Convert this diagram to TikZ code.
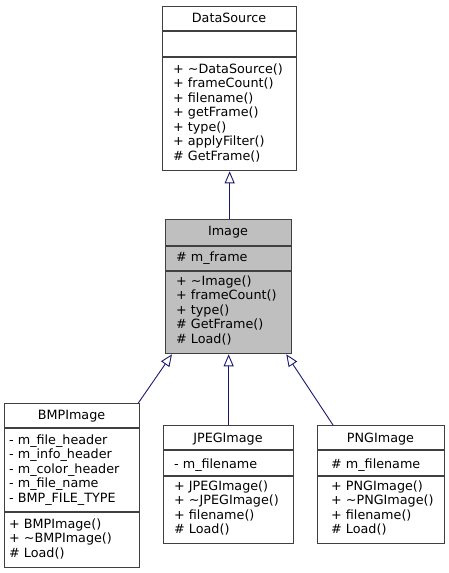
\documentclass[tikz,border=0pt]{standalone}
\usepackage{fontspec}
\setmainfont{DejaVu Sans}
\usetikzlibrary{arrows.meta,calc}
\definecolor{boxline}{HTML}{404040}
\definecolor{edgeblue}{HTML}{191970}
\definecolor{curfill}{HTML}{BFBFBF}
\begin{document}
\begin{tikzpicture}[x=1pt,y=-1pt,
  classbox/.style={draw=boxline, line width=1.3pt, fill=white, inner sep=0pt, anchor=north west},
  curbox/.style={classbox, fill=curfill},
  sepline/.style={draw=boxline, line width=1.3pt},
  txt/.style={inner sep=0pt, font=\fontsize{12.75}{14.5}\selectfont},
  title/.style={txt, anchor=base},
  members/.style={txt, anchor=north west, align=left},
  inherit/.style={draw=edgeblue, line width=0.9pt,
    -{Triangle[length=12pt,width=10pt,fill=white]}}]
\useasboundingbox (0,0) rectangle (449,573);

% DataSource
\node[classbox, minimum width=134pt, minimum height=164pt] (ds) at (162,6) {};
\draw[sepline] (162,31) -- (296,31);
\draw[sepline] (162,57) -- (296,57);
\node[title] (dst) at (229,22) {DataSource};
\node[members] (dsm) at (173,62.85) {\strut+ \textasciitilde DataSource()\\\strut+ frameCount()\\\strut+ filename()\\\strut+ getFrame()\\\strut+ type()\\\strut+ applyFilter()\\\strut\# GetFrame()};

% Image
\node[curbox, minimum width=126pt, minimum height=134pt] (img) at (165,219) {};
\draw[sepline] (165,246) -- (291,246);
\draw[sepline] (165,271) -- (291,271);
\node[title] (imgt) at (228,235) {Image};
\node[members] (imga) at (176,250.85) {\strut\# m\_frame};
\node[members] (imgm) at (176,274.85) {\strut+ \textasciitilde Image()\\\strut+ frameCount()\\\strut+ type()\\\strut\# GetFrame()\\\strut\# Load()};

% BMPImage
\node[classbox, minimum width=135pt, minimum height=164pt] (bmp) at (4,403) {};
\draw[sepline] (4,428) -- (139,428);
\draw[sepline] (4,512) -- (139,512);
\node[title] (bmpt) at (71.5,419) {BMPImage};
\node[members] (bmpa) at (9,433.85) {\strut- m\_file\_header\\\strut- m\_info\_header\\\strut- m\_color\_header\\\strut- m\_file\_name\\\strut- BMP\_FILE\_TYPE};
\node[members] (bmpm) at (9,517.85) {\strut+ BMPImage()\\\strut+ \textasciitilde BMPImage()\\\strut\# Load()};

% JPEGImage
\node[classbox, minimum width=130pt, minimum height=118pt] (jpg) at (163,425) {};
\draw[sepline] (163,450) -- (293,450);
\draw[sepline] (163,476) -- (293,476);
\node[title] (jpgt) at (228,442) {JPEGImage};
\node[members] (jpga) at (174,457.85) {\strut- m\_filename};
\node[members] (jpgm) at (174,479.85) {\strut+ JPEGImage()\\\strut+ \textasciitilde JPEGImage()\\\strut+ filename()\\\strut\# Load()};

% PNGImage
\node[classbox, minimum width=127pt, minimum height=118pt] (png) at (317,425) {};
\draw[sepline] (317,450) -- (444,450);
\draw[sepline] (317,476) -- (444,476);
\node[title] (pngt) at (380.5,442) {PNGImage};
\node[members] (pnga) at (331,457.85) {\strut\# m\_filename};
\node[members] (pngm) at (331,479.85) {\strut+ PNGImage()\\\strut+ \textasciitilde PNGImage()\\\strut+ filename()\\\strut\# Load()};

% Inheritance edges
\draw[inherit] (img.north -| ds.south) -- (ds.south);
\draw[inherit] ($(bmp.north east)+(-2,0)$) -- ($(img.south west)+(7,0)$);
\draw[inherit] (jpg.north -| img.south) -- (img.south);
\draw[inherit] ($(png.north west)+(16,0)$) -- ($(img.south east)+(-6,0)$);
\end{tikzpicture}
\end{document}
